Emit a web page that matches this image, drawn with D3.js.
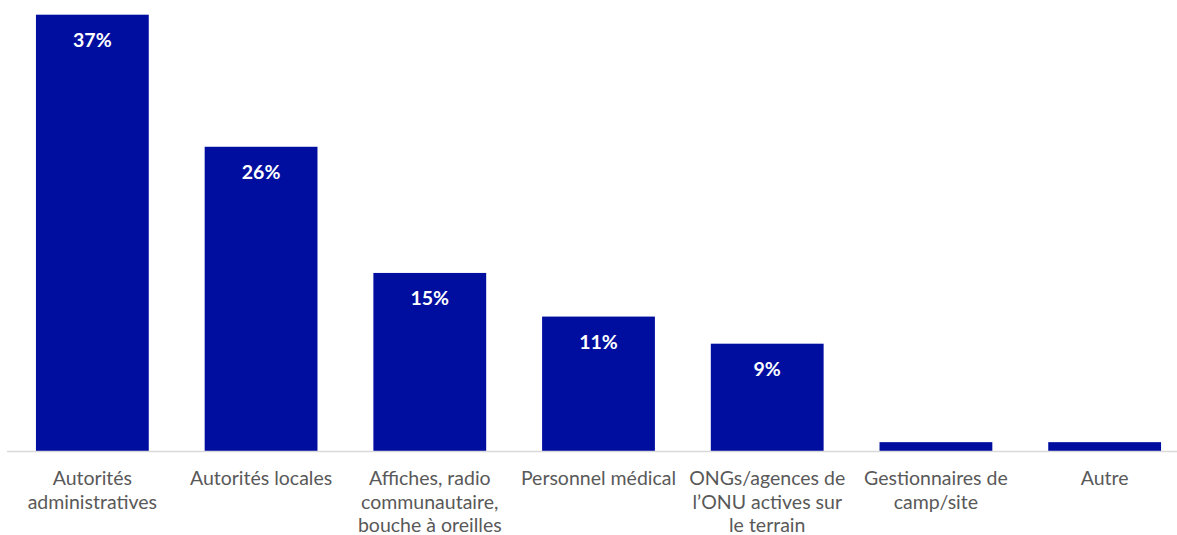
<!DOCTYPE html>
<html>
<head>
<meta charset="utf-8">
<script src="https://cdn.jsdelivr.net/npm/d3@7"></script>
<style>
  html, body { margin: 0; padding: 0; background: #fff; }
  svg { display: block; }
</style>
</head>
<body>
<svg id="chart" width="1177" height="535"></svg>
<script>
const categories = [
  "Autorités\nadministratives",
  "Autorités locales",
  "Affiches, radio\ncommunautaire,\nbouche à oreilles",
  "Personnel médical",
  "ONGs/agences de\nl’ONU actives sur\nle terrain",
  "Gestionnaires de\ncamp/site",
  "Autre"
];
const values = [37, 25.8, 15.1, 11.4, 9.1, 0.75, 0.75];
const valueLabels = ["37%", "26%", "15%", "11%", "9%", "", ""];

const svg = d3.select("#chart");
const baseY = 451, topY = 14.7;

const x = d3.scaleBand()
  .domain(categories)
  .range([8, 1189])
  .paddingInner(56 / 169)
  .paddingOuter(28 / 169);

const y = d3.scaleLinear().domain([0, 37]).range([baseY, topY]);

const data = categories.map((c, i) => ({ c, v: values[i], l: valueLabels[i] }));

svg.append("g").selectAll("rect")
  .data(data)
  .join("rect")
  .attr("x", d => x(d.c))
  .attr("y", d => y(d.v))
  .attr("width", x.bandwidth())
  .attr("height", d => baseY - y(d.v))
  .attr("fill", "#000ea0");

svg.append("g").selectAll("text")
  .data(data.filter(d => d.l))
  .join("text")
  .attr("x", d => x(d.c) + x.bandwidth() / 2)
  .attr("y", d => y(d.v) + 32)
  .attr("text-anchor", "middle")
  .attr("fill", "#ffffff")
  .attr("font-family", "Lato, 'Open Sans', sans-serif")
  .attr("font-weight", "bold")
  .attr("font-size", "19.5px")
  .text(d => d.l);

// axis
const axis = d3.axisBottom(x).tickSize(0).tickPadding(0).tickFormat("");
const ax = svg.append("g").attr("transform", `translate(0,${baseY})`).call(axis);
ax.select(".domain").remove();
svg.append("line")
  .attr("x1", 7).attr("x2", 1177)
  .attr("y1", baseY + 0.5).attr("y2", baseY + 0.5)
  .attr("stroke", "#d9d9d9").attr("stroke-width", 1.5);

const lbl = svg.append("g").selectAll("text")
  .data(categories)
  .join("text")
  .attr("x", d => x(d) + x.bandwidth() / 2)
  .attr("y", 485)
  .attr("text-anchor", "middle")
  .attr("fill", "#595959")
  .attr("font-family", "Lato, 'Open Sans', sans-serif")
  .attr("font-size", "19.5px");
lbl.each(function(d) {
  const t = d3.select(this);
  d.split("\n").forEach((line, i) => {
    t.append("tspan")
      .attr("x", x(d) + x.bandwidth() / 2)
      .attr("dy", i === 0 ? 0 : 23.5)
      .text(line);
  });
});
</script>
</body>
</html>
